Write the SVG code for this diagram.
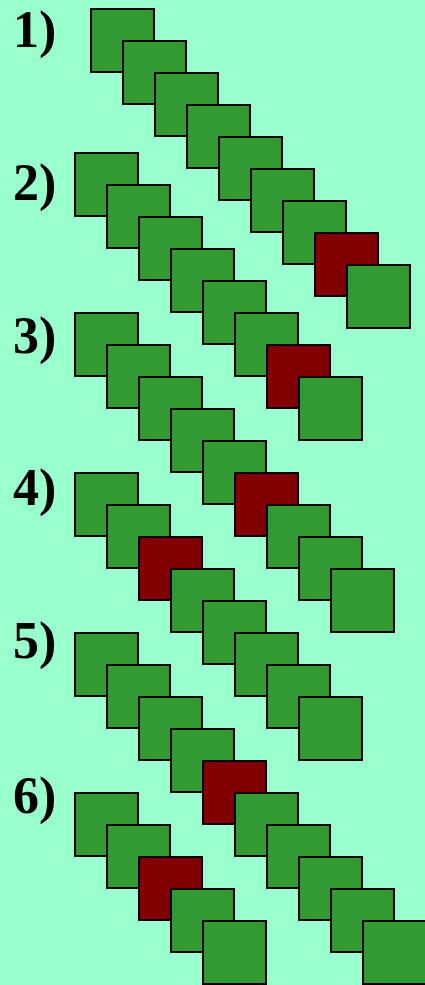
<svg xmlns="http://www.w3.org/2000/svg" width="425" height="985" viewBox="0 0 425 985">
<style>
.sq{stroke:#000;stroke-width:2}
.g{fill:#339933}
.r{fill:#800000}
.lbl{font-family:"Liberation Serif","Times New Roman",serif;font-weight:bold;font-size:52px;fill:#000}
</style>
<rect width="425" height="985" fill="#99FFCC"/>
<g id="labels">
<text class="lbl" x="13" y="47">1)</text>
<text class="lbl" x="13" y="200">2)</text>
<text class="lbl" x="13" y="353">3)</text>
<text class="lbl" x="13" y="505">4)</text>
<text class="lbl" x="13" y="658">5)</text>
<text class="lbl" x="13" y="813">6)</text>
</g>
<g id="row1">
<g id="r1s1"><rect class="sq g" x="91" y="9" width="63" height="63"/></g>
<g id="r1s2"><rect class="sq g" x="123" y="41" width="63" height="63"/></g>
<g id="r1s3"><rect class="sq g" x="155" y="73" width="63" height="63"/></g>
<g id="r1s4"><rect class="sq g" x="187" y="105" width="63" height="63"/></g>
<g id="r1s5"><rect class="sq g" x="219" y="137" width="63" height="63"/></g>
<g id="r1s6"><rect class="sq g" x="251" y="169" width="63" height="63"/></g>
<g id="r1s7"><rect class="sq g" x="283" y="201" width="63" height="63"/></g>
<g id="r1s8"><rect class="sq r" x="315" y="233" width="63" height="63"/></g>
<g id="r1s9"><rect class="sq g" x="347" y="265" width="63" height="63"/></g>
</g>
<g id="row2">
<g id="r2s1"><rect class="sq g" x="75" y="153" width="63" height="63"/></g>
<g id="r2s2"><rect class="sq g" x="107" y="185" width="63" height="63"/></g>
<g id="r2s3"><rect class="sq g" x="139" y="217" width="63" height="63"/></g>
<g id="r2s4"><rect class="sq g" x="171" y="249" width="63" height="63"/></g>
<g id="r2s5"><rect class="sq g" x="203" y="281" width="63" height="63"/></g>
<g id="r2s6"><rect class="sq g" x="235" y="313" width="63" height="63"/></g>
<g id="r2s7"><rect class="sq r" x="267" y="345" width="63" height="63"/></g>
<g id="r2s8"><rect class="sq g" x="299" y="377" width="63" height="63"/></g>
</g>
<g id="row3">
<g id="r3s1"><rect class="sq g" x="75" y="313" width="63" height="63"/></g>
<g id="r3s2"><rect class="sq g" x="107" y="345" width="63" height="63"/></g>
<g id="r3s3"><rect class="sq g" x="139" y="377" width="63" height="63"/></g>
<g id="r3s4"><rect class="sq g" x="171" y="409" width="63" height="63"/></g>
<g id="r3s5"><rect class="sq g" x="203" y="441" width="63" height="63"/></g>
<g id="r3s6"><rect class="sq r" x="235" y="473" width="63" height="63"/></g>
<g id="r3s7"><rect class="sq g" x="267" y="505" width="63" height="63"/></g>
<g id="r3s8"><rect class="sq g" x="299" y="537" width="63" height="63"/></g>
<g id="r3s9"><rect class="sq g" x="331" y="569" width="63" height="63"/></g>
</g>
<g id="row4">
<g id="r4s1"><rect class="sq g" x="75" y="473" width="63" height="63"/></g>
<g id="r4s2"><rect class="sq g" x="107" y="505" width="63" height="63"/></g>
<g id="r4s3"><rect class="sq r" x="139" y="537" width="63" height="63"/></g>
<g id="r4s4"><rect class="sq g" x="171" y="569" width="63" height="63"/></g>
<g id="r4s5"><rect class="sq g" x="203" y="601" width="63" height="63"/></g>
<g id="r4s6"><rect class="sq g" x="235" y="633" width="63" height="63"/></g>
<g id="r4s7"><rect class="sq g" x="267" y="665" width="63" height="63"/></g>
<g id="r4s8"><rect class="sq g" x="299" y="697" width="63" height="63"/></g>
</g>
<g id="row5">
<g id="r5s1"><rect class="sq g" x="75" y="633" width="63" height="63"/></g>
<g id="r5s2"><rect class="sq g" x="107" y="665" width="63" height="63"/></g>
<g id="r5s3"><rect class="sq g" x="139" y="697" width="63" height="63"/></g>
<g id="r5s4"><rect class="sq g" x="171" y="729" width="63" height="63"/></g>
<g id="r5s5"><rect class="sq r" x="203" y="761" width="63" height="63"/></g>
<g id="r5s6"><rect class="sq g" x="235" y="793" width="63" height="63"/></g>
<g id="r5s7"><rect class="sq g" x="267" y="825" width="63" height="63"/></g>
<g id="r5s8"><rect class="sq g" x="299" y="857" width="63" height="63"/></g>
<g id="r5s9"><rect class="sq g" x="331" y="889" width="63" height="63"/></g>
<g id="r5s10"><rect class="sq g" x="363" y="921" width="63" height="63"/></g>
</g>
<g id="row6">
<g id="r6s1"><rect class="sq g" x="75" y="793" width="63" height="63"/></g>
<g id="r6s2"><rect class="sq g" x="107" y="825" width="63" height="63"/></g>
<g id="r6s3"><rect class="sq r" x="139" y="857" width="63" height="63"/></g>
<g id="r6s4"><rect class="sq g" x="171" y="889" width="63" height="63"/></g>
<g id="r6s5"><rect class="sq g" x="203" y="921" width="63" height="63"/></g>
</g>
<g id="connectors"/>
</svg>
